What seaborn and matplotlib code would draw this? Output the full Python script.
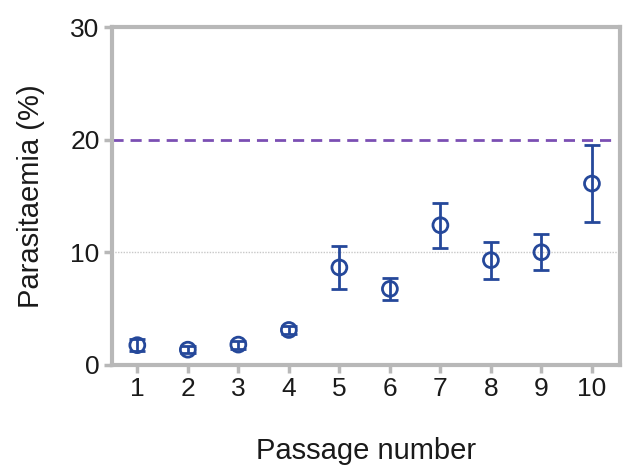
import matplotlib
matplotlib.use("Agg")
import matplotlib.pyplot as plt
import seaborn as sns
import pandas as pd

passage = [1, 2, 3, 4, 5, 6, 7, 8, 9, 10]
parasitaemia = [1.75, 1.35, 1.8, 3.1, 8.65, 6.75, 12.4, 9.3, 10.0, 16.1]
error = [0.55, 0.3, 0.35, 0.35, 1.9, 1.0, 2.0, 1.65, 1.6, 3.4]
y_ticks = [0, 10, 20, 30]
threshold = 20

df = pd.DataFrame({"passage": passage, "parasitaemia": parasitaemia, "error": error})

sns.set_theme(style="white")
plt.rcParams['font.family'] = ['Liberation Sans', 'DejaVu Sans']

blue = "#25489a"
grey = "#b8b8b8"

fig = plt.figure(figsize=(6.26, 4.66), dpi=100)
ax = fig.add_axes([0.179, 0.217, 0.811, 0.725])

ax.axhline(10, color="#c8c8c8", lw=1, ls=(0, (1, 1)), zorder=1)
ax.axhline(threshold, color="#7b4fb3", lw=2, ls=(0, (4, 2.5)), zorder=1)

ax.errorbar(df["passage"], df["parasitaemia"], yerr=df["error"], fmt="none",
            ecolor=blue, elinewidth=2, capsize=5.8, capthick=2, zorder=2)
sns.scatterplot(data=df, x="passage", y="parasitaemia", ax=ax, marker="o",
                s=115, facecolor="none", edgecolor=blue, linewidth=2, zorder=3)

ax.set_xlim(0.5, 10.55)
ax.set_ylim(0, 30)
ax.set_xticks(passage)
ax.set_yticks(y_ticks)
ax.tick_params(axis="both", which="both", direction="out", length=6, width=2.5,
               color=grey, labelsize=19, pad=3, labelcolor="#1a1a1a", bottom=True, left=True)
for sp in ax.spines.values():
    sp.set_color(grey)
    sp.set_linewidth(3)

ax.set_xlabel("Passage number", fontsize=21, labelpad=26, color="#1a1a1a")
ax.set_ylabel("Parasitaemia (%)", fontsize=21, labelpad=18, color="#1a1a1a")

fig.savefig("out.png", dpi=100)
